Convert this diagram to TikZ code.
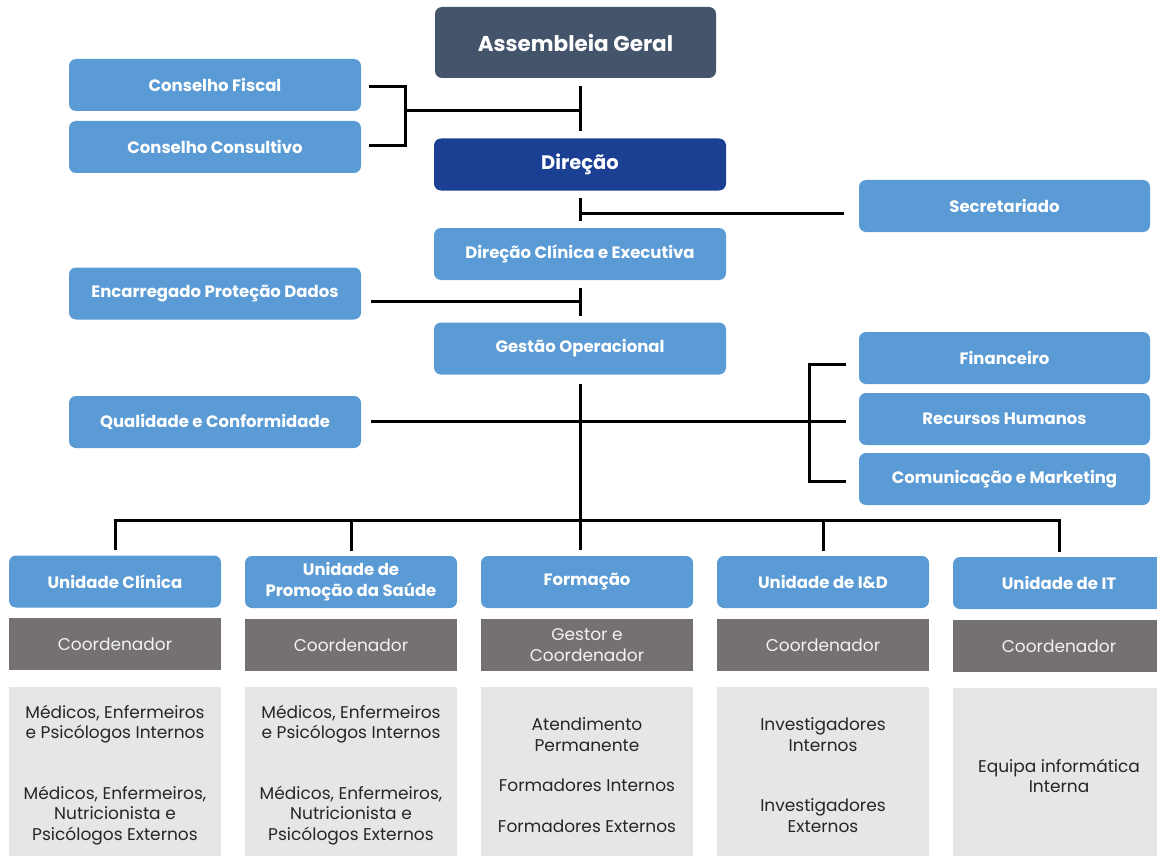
\documentclass[tikz,border=0pt]{standalone}
\usepackage{fontspec}
\setmainfont{Poppins}
\usetikzlibrary{calc, positioning}

\definecolor{agblue}{HTML}{44546A}
\definecolor{dirblue}{HTML}{1B3F92}
\definecolor{boxblue}{HTML}{5B9BD5}
\definecolor{coordgray}{HTML}{767171}
\definecolor{staffgray}{HTML}{E7E6E6}

\begin{document}
\begin{tikzpicture}[x=1pt, y=-1pt, line width=3pt, font=\fontsize{16.5}{21}\selectfont\bfseries]
	\tikzset{
		box/.style={fill=boxblue, text=white, rounded corners=7pt, minimum width=292pt, minimum height=52pt, inner sep=0pt, align=center},
		unit/.style={box, minimum width=212pt},
		coord/.style={fill=coordgray, text=white!95!black, minimum width=212pt, minimum height=52pt, inner sep=0pt, align=center, font=\fontsize{17}{21}\selectfont},
		staff/.style={fill=staffgray, text=black!85, minimum width=212pt, minimum height=176pt, inner sep=0pt, align=center, font=\fontsize{17}{20.5}\selectfont}
	}
	\useasboundingbox (0,0) rectangle (1157,856);
	% top of the chart
	\node[box, fill=agblue, minimum width=281pt, minimum height=71pt, font=\fontsize{21.5}{24}\selectfont\bfseries] (ag) at (575.5,42.5) {Assembleia Geral};
	\node[box] (cf) at (215,85) {Conselho Fiscal};
	\node[box] (cc) at (215,147) {Conselho Consultivo};
	\node[box, fill=dirblue, font=\fontsize{19.5}{22}\selectfont\bfseries] (dir) at (580,164.5) {Direção};
	\node[box, minimum width=291pt] (sec) at (1004.5,206) {Secretariado};
	\node[box] (dce) at (580,254) {Direção Clínica e Executiva};
	\node[box] (epd) at (215,293.5) {Encarregado Proteção Dados};
	\node[box] (go) at (580,348.5) {Gestão Operacional};
	\node[box, minimum width=291pt] (fin) at (1004.5,358) {Financeiro};
	\node[box, minimum width=291pt] (rh) at (1004.5,419) {Recursos Humanos};
	\node[box, minimum width=291pt] (cm) at (1004.5,479) {Comunicação e Marketing};
	\node[box] (qc) at (215,422) {Qualidade e Conformidade};
	% units
	\node[unit] (u1) at (115,581.5) {Unidade Clínica};
	\node[unit] (u2) at (351,582) {Unidade de\\Promoção da Saúde};
	\node[unit] (u3) at (587,582) {Formação};
	\node[unit] (u4) at (823,582) {Unidade de I\&D};
	\node[unit] (u5) at (1059,583) {Unidade de IT};
	\node[coord] (c1) at (115,644) {Coordenador};
	\node[coord] (c2) at (351,645) {Coordenador};
	\node[coord] (c3) at (587,645) {Gestor e\\Coordenador};
	\node[coord] (c4) at (823,645) {Coordenador};
	\node[coord] (c5) at (1059,646) {Coordenador};
	\node[staff] (s1) at (115,775) {Médicos, Enfermeiros\\e Psicólogos Internos\\[40pt]Médicos, Enfermeiros,\\Nutricionista e\\Psicólogos Externos};
	\node[staff] (s2) at (351,775) {Médicos, Enfermeiros\\e Psicólogos Internos\\[40pt]Médicos, Enfermeiros,\\Nutricionista e\\Psicólogos Externos};
	\node[staff] (s3) at (587,775) {Atendimento\\Permanente\\[20pt]Formadores Internos\\[20pt]Formadores Externos};
	\node[staff] (s4) at (823,775) {Investigadores\\Internos\\[40pt]Investigadores\\Externos};
	\node[staff] (s5) at (1059,776) {Equipa informática\\Interna};
	% connectors
	\coordinate (cbr) at (405,111);
	\coordinate (qbr) at (809,421);
	\coordinate (bus) at (581,520);
	\draw ($(cf.east)+(6,2)$) -| (cbr) |- ($(cc.east)+(6,-1)$);
	\draw (cbr) -- (cbr -| dir);
	\draw ($(ag.south -| dir)+(0,7)$) -- ($(dir.north)+(0,-6)$);
	\draw ($(dir.south)+(0,6)$) -- ($(dce.north)+(0,-6)$);
	\draw ($(sec.west)+(-14,7)$) -- ($(sec.west -| dir)+(0,7)$);
	\draw ($(dce.south)+(0,6)$) -- ($(go.north)+(0,-5)$);
	\draw ($(epd.east)+(8,7.5)$) -- ($(epd.east -| dir)+(0,7.5)$);
	\draw ($(fin.west)+(-12,6)$) -| (qbr) |- ($(cm.west)+(-12,2)$);
	\draw ($(qc.east)+(8,-1)$) -- ($(rh.west)+(-12,2)$);
	\draw ($(go.south)+(0,8)$) -- ($(u3.north -| go)+(0,-5)$);
	\draw ($(u1.north)+(0,-4)$) |- (bus) -| ($(u5.north)+(0,-4)$);
	\draw ($(u2.north)+(0,-4)$) -- (bus -| u2);
	\draw ($(u4.north)+(0,-4)$) -- (bus -| u4);
\end{tikzpicture}
\end{document}
